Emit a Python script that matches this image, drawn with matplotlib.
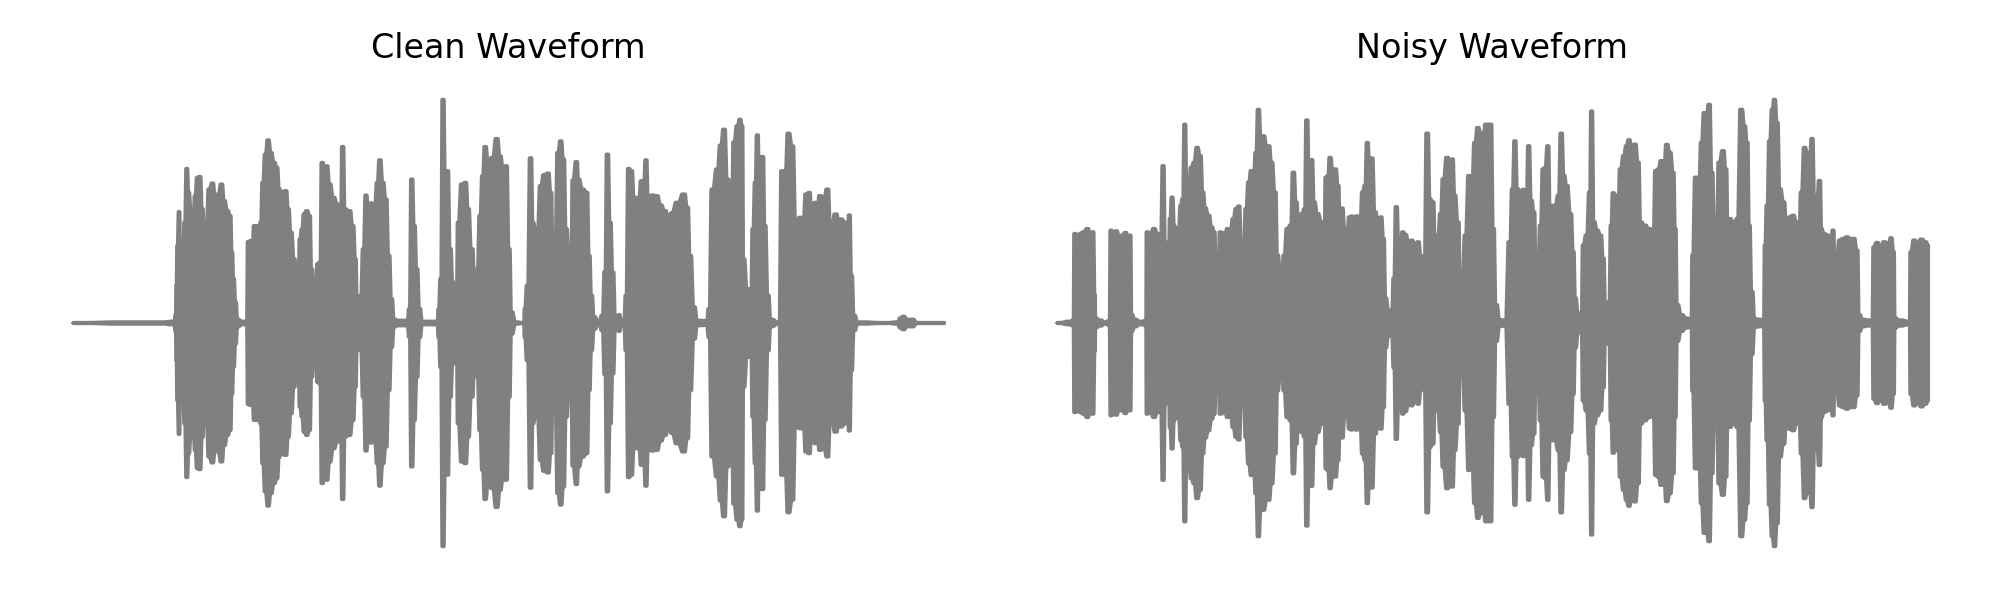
import numpy as np
import matplotlib
matplotlib.use("Agg")
import matplotlib.pyplot as plt

# envelope: t and amp are in 1/3 reference pixels
clean_t = [
    38, 200, 300, 340, 345, 347, 350, 355, 358, 362, 366, 372, 378, 383, 390,
    398, 403, 410, 417, 424, 431, 437, 445, 455, 463, 472, 482, 490, 500, 508,
    513, 518, 524, 530, 545, 558, 562, 570, 573, 576, 580, 588, 594, 600, 606,
    614, 622, 630, 640, 648, 655, 662, 675, 682, 690, 700, 706, 712, 718, 724,
    730, 738, 746, 752, 760, 766, 770, 778, 784, 792, 798, 806, 818, 830, 838,
    846, 852, 866, 876, 884, 888, 896, 900, 908, 916, 922, 930, 942, 950, 957,
    966, 975, 984, 992, 1000, 1015, 1040, 1046, 1053, 1060, 1068, 1076, 1085, 1130, 1134,
    1140, 1147, 1153, 1160, 1168, 1176, 1188, 1192, 1204, 1214, 1222, 1232, 1245, 1250, 1258,
    1266, 1273, 1282, 1295, 1308, 1318, 1326, 1336, 1345, 1352, 1365, 1390, 1392, 1400, 1410,
    1416, 1424, 1430, 1440, 1450, 1462, 1470, 1477, 1483, 1492, 1500, 1508, 1516, 1526, 1532,
    1536, 1548, 1552, 1566, 1578, 1585, 1592, 1600, 1615, 1625, 1633, 1640, 1648, 1656, 1664,
    1670, 1675, 1682, 1690, 1696, 1704, 1712, 1720, 1735, 1742, 1748, 1756, 1762, 1775, 1788,
    1800, 1812, 1825, 1832, 1850, 1870, 1880, 1888, 1900, 1910, 1938, 1945, 1955, 1970, 1980,
    1990, 2000, 2012, 2020, 2030, 2038, 2044, 2048, 2060, 2070, 2077, 2084, 2090, 2096, 2106,
    2112, 2122, 2130, 2155, 2164, 2174, 2183, 2195, 2205, 2220, 2228, 2236, 2246, 2252, 2265,
    2270, 2277, 2290, 2300, 2310, 2326, 2335, 2340, 2355, 2360, 2366, 2372, 2380, 2392, 2480,
    2510, 2520, 2528, 2540, 2555, 2570, 2650,
]
clean_amp = [
    6, 8, 8, 10, 30, 118, 238, 340, 118, 118, 188, 308, 470, 398, 348,
    318, 388, 443, 446, 348, 233, 308, 408, 426, 383, 393, 423, 373, 343, 328,
    218, 138, 68, 16, 10, 10, 250, 253, 168, 253, 298, 298, 188, 308, 428,
    513, 556, 518, 488, 473, 408, 398, 403, 348, 278, 198, 158, 103, 258, 288,
    333, 343, 328, 168, 103, 48, 183, 188, 488, 438, 478, 423, 383, 363, 153,
    536, 348, 343, 298, 198, 88, 73, 88, 228, 390, 338, 366, 363, 428, 496,
    428, 378, 208, 78, 16, 13, 13, 48, 438, 298, 168, 48, 10, 10, 48,
    138, 678, 458, 463, 228, 128, 108, 308, 423, 428, 348, 228, 68, 168, 328,
    448, 536, 493, 503, 560, 508, 478, 478, 228, 38, 8, 6, 48, 118, 502,
    308, 288, 288, 418, 451, 456, 398, 173, 238, 518, 553, 498, 288, 198, 138,
    435, 491, 438, 408, 398, 208, 88, 23, 8, 28, 160, 513, 308, 158, 23,
    8, 30, 13, 8, 88, 470, 463, 383, 383, 433, 388, 496, 383, 390, 388,
    360, 343, 293, 336, 368, 393, 353, 208, 53, 13, 12, 48, 408, 468, 540,
    588, 438, 228, 550, 598, 618, 598, 198, 108, 18, 288, 428, 571, 398, 506,
    298, 88, 16, 8, 463, 463, 576, 538, 318, 323, 308, 393, 398, 348, 368,
    308, 388, 383, 408, 288, 333, 298, 318, 308, 78, 330, 148, 28, 8, 6,
    8, 20, 25, 16, 16, 6, 6,
]

noisy_t = [
    22, 60, 70, 73, 85, 90, 100, 112, 120, 128, 134, 135, 150, 165, 178,
    182, 190, 198, 208, 216, 226, 234, 240, 244, 255, 270, 288, 290, 300, 312,
    322, 332, 339, 345, 352, 356, 360, 366, 372, 376, 386, 392, 398, 404, 410,
    416, 424, 432, 441, 450, 458, 465, 475, 485, 492, 498, 505, 510, 518, 525,
    532, 540, 550, 558, 566, 574, 580, 588, 596, 604, 610, 618, 625, 632, 640,
    650, 656, 664, 675, 682, 690, 695, 702, 712, 722, 730, 738, 746, 756, 764,
    770, 778, 785, 792, 802, 815, 822, 828, 834, 840, 848, 856, 864, 870, 876,
    884, 892, 898, 905, 912, 920, 930, 938, 945, 952, 958, 965, 975, 985, 993,
    1000, 1007, 1015, 1025, 1032, 1039, 1046, 1052, 1058, 1066, 1076, 1085, 1095, 1105, 1112,
    1116, 1122, 1132, 1140, 1148, 1158, 1164, 1172, 1180, 1192, 1200, 1207, 1214, 1224, 1232,
    1238, 1246, 1258, 1266, 1275, 1284, 1292, 1300, 1308, 1322, 1330, 1338, 1350, 1365, 1380,
    1388, 1395, 1402, 1412, 1420, 1430, 1436, 1444, 1452, 1458, 1464, 1472, 1480, 1486, 1494,
    1500, 1516, 1526, 1534, 1542, 1550, 1562, 1570, 1576, 1585, 1595, 1600, 1610, 1620, 1625,
    1632, 1642, 1652, 1660, 1667, 1673, 1678, 1684, 1690, 1698, 1704, 1712, 1722, 1730, 1737,
    1747, 1755, 1765, 1772, 1785, 1798, 1810, 1818, 1826, 1834, 1842, 1851, 1860, 1870, 1876,
    1882, 1895, 1910, 1925, 1928, 1938, 1948, 1955, 1964, 1970, 1978, 1986, 1994, 2000, 2008,
    2020, 2028, 2035, 2042, 2048, 2054, 2062, 2075, 2084, 2092, 2098, 2106, 2115, 2130, 2142,
    2146, 2152, 2160, 2168, 2174, 2182, 2190, 2202, 2210, 2220, 2230, 2240, 2248, 2255, 2265,
    2272, 2280, 2287, 2294, 2300, 2310, 2315, 2322, 2335, 2343, 2350, 2356, 2362, 2370, 2380,
    2392, 2402, 2412, 2422, 2428, 2440, 2455, 2468, 2472, 2482, 2492, 2504, 2516, 2524, 2532,
    2535, 2550, 2580, 2583, 2594, 2604, 2615, 2628, 2635,
]
noisy_amp = [
    6, 10, 14, 275, 265, 275, 280, 290, 270, 280, 90, 20, 14, 8, 12,
    285, 280, 283, 265, 270, 278, 262, 270, 30, 16, 10, 12, 280, 275, 290,
    275, 270, 480, 250, 230, 190, 320, 385, 300, 292, 290, 360, 380, 605, 380,
    420, 475, 490, 535, 510, 400, 352, 330, 295, 280, 180, 70, 280, 278, 270,
    290, 275, 320, 350, 358, 250, 160, 350, 430, 465, 430, 520, 650, 570, 570,
    540, 540, 490, 400, 210, 170, 95, 210, 290, 300, 460, 370, 280, 335, 350,
    618, 400, 498, 370, 335, 310, 180, 445, 450, 505, 465, 470, 420, 290, 352,
    290, 280, 325, 328, 300, 328, 300, 400, 420, 550, 480, 503, 340, 290, 325,
    260, 80, 45, 25, 140, 356, 240, 200, 280, 272, 245, 255, 240, 250, 210,
    60, 140, 578, 380, 370, 125, 270, 335, 440, 505, 490, 500, 390, 310, 60,
    145, 270, 450, 425, 550, 595, 580, 570, 605, 605, 290, 60, 15, 14, 250,
    410, 555, 410, 380, 408, 370, 540, 375, 340, 148, 148, 300, 470, 475, 540,
    360, 360, 390, 578, 450, 420, 335, 220, 80, 35, 20, 240, 270, 400, 645,
    310, 285, 270, 200, 30, 16, 70, 300, 398, 390, 330, 470, 510, 540, 558,
    520, 545, 490, 310, 300, 290, 250, 465, 470, 495, 470, 544, 520, 460, 290,
    60, 30, 20, 16, 210, 445, 440, 550, 640, 630, 665, 460, 300, 200, 490,
    525, 470, 240, 320, 310, 240, 320, 650, 600, 550, 300, 100, 18, 16, 14,
    240, 360, 555, 650, 680, 610, 410, 370, 290, 325, 330, 310, 270, 400, 535,
    520, 510, 562, 390, 350, 435, 290, 275, 270, 80, 285, 70, 215, 255, 260,
    265, 260, 260, 225, 30, 16, 14, 12, 235, 248, 235, 250, 240, 262, 220,
    20, 14, 10, 220, 255, 240, 258, 250, 240,
]

titles = ["Clean Waveform", "Noisy Waveform"]

# half of the stroke width, the amps above were measured to the stroke edge
LINE_PAD = 6
# share of the gap to the neighbour point that stays flat, gives steep burst edges
FLAT = 0.3


def plateaus(t, amp):
    t = np.array(t, dtype=float)
    a = np.clip(np.array(amp, dtype=float) - LINE_PAD, 0, None)
    gaps = np.diff(t)
    left = t - FLAT * np.r_[0, gaps]
    right = t + FLAT * np.r_[gaps, 0]
    return np.column_stack([left, right]).ravel(), np.repeat(a, 2)


fig, axes = plt.subplots(1, 2, figsize=(20, 6), dpi=100)
fig.subplots_adjust(left=0.01475, right=0.9855, top=0.8717, bottom=0.0533, wspace=0.0277)

for ax, t, amp, title in zip(axes, [clean_t, noisy_t], [clean_amp, noisy_amp], titles):
    x, a = plateaus(t, amp)
    ax.fill_between(x, -a, a, color="gray", linewidth=3, joinstyle="round", capstyle="round")
    ax.margins(x=0.05, y=0.05)
    ax.set_title(title, fontsize=24, pad=14)
    ax.axis("off")

fig.savefig("out.png", dpi=100)
